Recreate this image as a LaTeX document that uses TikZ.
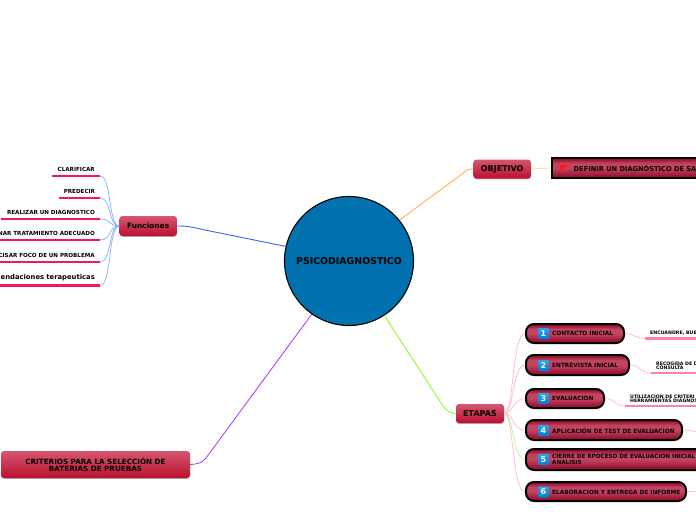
\documentclass[tikz,border=0pt]{standalone}
\usepackage{fontspec}
\setmainfont{DejaVu Sans}
\usetikzlibrary{shadows,calc}
\definecolor{mainA}{HTML}{D6566F}
\definecolor{mainB}{HTML}{BB1030}
\definecolor{pillA}{HTML}{981232}
\definecolor{pillB}{HTML}{C24460}
\definecolor{rootA}{HTML}{1E80B6}
\definecolor{rootB}{HTML}{0070AE}
\definecolor{iconA}{HTML}{25A8F0}
\definecolor{iconB}{HTML}{0078D8}
\definecolor{leafF}{HTML}{F01860}
\definecolor{leafE}{HTML}{FF80B0}
\definecolor{linkF}{HTML}{88AEFF}
\definecolor{linkE}{HTML}{FFBFD0}
\definecolor{mainBlue}{HTML}{2F66FF}
\definecolor{mainOrange}{HTML}{FFAE3C}
\definecolor{mainGreen}{HTML}{88FF22}
\definecolor{mainPurple}{HTML}{AA33FF}
\definecolor{softOrange}{HTML}{FFD9A0}
\definecolor{softGreen}{HTML}{C8F58A}
\pgfdeclareverticalshading{rootsh}{100bp}{color(0bp)=(rootA); color(32bp)=(rootB); color(68bp)=(rootB); color(100bp)=(rootA)}
\pgfdeclareverticalshading{pillsh}{100bp}{color(0bp)=(pillA); color(30bp)=(pillA); color(50bp)=(pillB); color(62bp)=(pillB); color(72bp)=(pillA); color(100bp)=(pillA)}
\newcommand{\fsz}[1]{\fontsize{#1}{#1}\selectfont\bfseries}
\tikzset{
  x=1pt,y=-1pt,
  rootnode/.style={circle,draw=black,line width=1.1pt,shading=rootsh,minimum size=129pt,inner sep=0pt,font=\fsz{9.4},text=black},
  mainnode/.style={rounded corners=3pt,top color=mainA,bottom color=mainB,draw=none,inner sep=0pt,align=center,font=\fsz{8},text=black,
    drop shadow={shadow xshift=0pt,shadow yshift=-0.8pt,fill=black,opacity=.3}},
  flagbox/.style={draw=black,line width=2pt,shading=pillsh,inner sep=0pt,anchor=north west},
  pillnode/.style={draw=black,line width=2pt,rounded corners=8pt,shading=pillsh,inner sep=0pt,anchor=north west},
  pilltext/.style={anchor=west,inner sep=0pt,align=left,font=\fsz{5.8},text=black},
  iconnode/.style={rounded corners=1pt,top color=iconA,bottom color=iconB,minimum size=11pt,inner sep=0pt,text=white,font=\fsz{8}},
  leafL/.style={anchor=south east,inner xsep=5pt,inner ysep=4pt,text width=#1,align=right,font=\fsz{5.6},text=black},
  leafR/.style={anchor=south west,inner xsep=5pt,inner ysep=3pt,text width=#1,align=left,font=\fsz{4.7},text=black},
  linkf/.style={draw=linkF,line width=.7pt},
  linke/.style={draw=linkE,line width=.8pt},
  barf/.style={draw=leafF,line width=2.2pt},
  bare/.style={draw=leafE,line width=2.2pt},
}
\begin{document}
\begin{tikzpicture}
\useasboundingbox (0,0) rectangle (696,520);
\clip (0,0) rectangle (696,520);
\fill[white] (0,0) rectangle (696,520);

\node[rootnode] (root) at (349,261) {\raisebox{-2.2pt}{PSICODIAGNOSTICO}};

\node[mainnode,minimum width=57.5pt,minimum height=20pt,font=\fsz{7.4}] (fun) at (148.2,226) {Funciones};
\node[mainnode,minimum width=57.5pt,minimum height=19pt] (obj) at (502.2,169) {OBJETIVO};
\node[mainnode,minimum width=48pt,minimum height=19pt] (eta) at (480,413.5) {ETAPAS};
\node[mainnode,minimum width=189pt,minimum height=27pt,font=\fsz{7.2},align=center] (cri) at (95.5,464.5) {CRITERIOS PARA LA SELECCIÓN DE\\BATERIAS DE PRUEBAS};

% main connectors
\draw[draw=mainBlue,line width=.9pt] (root.167) -- (205,230) .. controls (192,227) and (188,226) .. (fun.east);
\draw[draw=mainOrange,line width=.8pt] (root.39) -- (462,174) .. controls (466,170) and (468,169) .. (obj.west);
\draw[draw=mainGreen,line width=.9pt] (root.-57) -- (443,406) .. controls (448,412) and (450,413) .. (eta.west);
\draw[draw=mainPurple,line width=.8pt] (root.-125) -- (206,458) .. controls (202,463) and (198,464) .. (cri.east);

% objetivo child
\node[flagbox,minimum width=160pt,minimum height=20pt] (def) at (551,157) {};
\node[anchor=west,inner sep=0pt,font=\fsz{6.65},text=black] (deft) at (573.5,168.5) {DEFINIR UN DIAGNÓSTICO DE SA};
\fill[red!90!white] (560,164.5) -- (569.5,164.5) -- (563,169) -- (560,172) -- cycle;
\draw[draw=softOrange,line width=.8pt] (obj.east) -- (def.west);

% funciones leaves
\node[leafL=38pt] (l1) at (100,176) {CLARIFICAR};
\node[leafL=31pt] (l2) at (100,198) {PREDECIR};
\node[leafL=89pt] (l3) at (100,219) {REALIZAR UN DIAGNOSTICO};
\node[leafL=112pt] (l4) at (100,240) {NAR TRATAMIENTO ADECUADO};
\node[leafL=112pt] (l5) at (100,262) {CISAR FOCO DE UN PROBLEMA};
\node[leafL=112pt,font=\fsz{6.8}] (l6) at (100,285.5) {endaciones terapeuticas};
\foreach \n/\y in {l1/176,l2/198,l3/219,l4/240,l5/262,l6/285.5}{
  \draw[linkf] (fun.west) .. controls (108,226) and (112,\y) .. (\n.south east);
  \draw[barf] (\n.south west) -- (\n.south east);
}

% etapas pills
\node[pillnode,minimum width=98pt,minimum height=19pt] (p1) at (525,323) {};
\node[pillnode,minimum width=103pt,minimum height=20pt] (p2) at (525,354) {};
\node[pillnode,minimum width=78pt,minimum height=19pt] (p3) at (525,388) {};
\node[pillnode,minimum width=156pt,minimum height=20pt] (p4) at (525,419) {};
\node[pillnode,minimum width=190pt,minimum height=21pt] (p5) at (525,448) {};
\node[pillnode,minimum width=160pt,minimum height=19pt] (p6) at (525,481) {};
\foreach \n/\t/\y in {1/CONTACTO INICIAL/333.5,2/ENTREVISTA INICIAL/365.5,3/EVALUACION/398.5,4/APLICACIÓN DE TEST DE EVALUACION/430.5,6/ELABORACION Y ENTREGA DE INFORME/492}{
  \node[iconnode] (i\n) at (543.5,\y) {\n};
  \node[pilltext] (t\n) at (552,\y) {\t};
}
\node[iconnode] (i5) at (543.5,459.5) {5};
\node[pilltext,font=\fsz{5.65}] (t5) at (552,459.5) {CIERRE DE RPOCESO DE EVALUACION INICIAL\\ANALISIS};

\foreach \n/\y in {1/334,2/366,3/399,4/430,6/492}{
  \draw[linke] (eta.east) .. controls (514,413) and (512,\y) .. (p\n.west);
}
\draw[draw=softGreen,line width=.8pt] (eta.east) .. controls (514,413) and (512,459) .. (p5.west);

% etapas leaves
\node[leafR=60pt] (r1) at (645,338.5) {ENCUANDRE, BUE};
\node[leafR=60pt] (r2) at (651,373) {RECOGIDA DE D\\CONSULTA};
\node[leafR=70pt] (r3) at (625,406) {UTILIZACION DE CRITERI\\HERRAMIENTAS DIAGNOS};
\foreach \n in {1,2,3}{
  \draw[linke] (p\n.east) .. controls ($(p\n.east)+(10,0)$) and ($(r\n.south west)+(-10,0)$) .. (r\n.south west);
  \draw[bare] (r\n.south west) -- (r\n.south east);
}
\coordinate (e4) at (700,433);
\coordinate (e6) at (700,491);
\draw[linke] (p4.east) .. controls (690,430) and (692,431) .. (e4);
\draw[linke] (p6.east) -- (e6);
\end{tikzpicture}
\end{document}
